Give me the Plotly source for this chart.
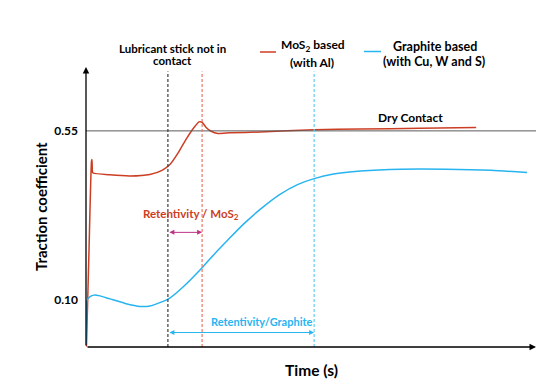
import plotly.graph_objects as go

# ---- data (time in arbitrary units, traction coefficient) ----
mos2_t = [0.1, 0.67, 1.22, 1.33, 1.42, 1.56, 5.3, 9.8, 14.2, 16.9, 18.7, 20.4, 22.2, 24.0, 25.1, 25.8,
          26.7, 27.8, 29.3, 32.0, 38.7, 50.7, 60.9, 74.2, 86.7]
mos2_y = [-0.024, 0.234, 0.469, 0.474, 0.442, 0.438, 0.433, 0.430, 0.434, 0.445, 0.461, 0.490, 0.527,
          0.559, 0.574, 0.573, 0.559, 0.549, 0.543, 0.545, 0.547, 0.553, 0.555, 0.557, 0.559]

graph_t = [0.0, 0.05, 0.1, 0.22, 0.9, 1.78, 3.1, 5.3, 8.7, 12.0, 14.2, 16.4, 18.7, 21.5, 25.8, 28.5,
           31.3, 35.0, 38.7, 43.1, 47.0, 50.7, 55.0, 61.0, 70.0, 80.0, 90.0, 98.0]
graph_y = [-0.018, 0.010, 0.060, 0.099, 0.109, 0.113, 0.111, 0.103, 0.091, 0.083, 0.084, 0.093, 0.106,
           0.134, 0.186, 0.222, 0.257, 0.302, 0.341, 0.381, 0.407, 0.423, 0.435, 0.443, 0.448, 0.448,
           0.445, 0.439]

dry_contact = 0.55
tick_vals = [0.10, 0.55]
tick_text = ["0.10", "0.55"]
t_not_in_contact = 18.2
t_mos2_ret = 25.8
t_graph_ret = 50.7

X_RANGE = [0, 100]
Y_RANGE = [-0.025, 0.72]

RED = "rgb(204,62,36)"
BLUE = "rgb(40,180,240)"
FONT = "Lato"

W, H = 553, 388
L, R, T, B = 86, 17, 67, 41


def px(x):
    return (x - L) / (W - L - R)


def py(y):
    return (H - B - y) / (H - T - B)


fig = go.Figure()
fig.add_trace(go.Scatter(x=mos2_t, y=mos2_y, mode="lines", line=dict(color=RED, width=1.5, shape="spline", smoothing=0.5),
                         showlegend=False, hoverinfo="skip", cliponaxis=False))
fig.add_trace(go.Scatter(x=graph_t, y=graph_y, mode="lines", line=dict(color=BLUE, width=1.5, shape="spline", smoothing=0.7),
                         showlegend=False, hoverinfo="skip", cliponaxis=False))

shapes = []
# dry contact line
shapes.append(dict(type="line", xref="x", yref="y", x0=0, x1=100.5, y0=dry_contact, y1=dry_contact,
                   line=dict(color="rgb(90,90,90)", width=1)))
# vertical dashed lines
top_v = 0.708
for t, c in [(t_not_in_contact, "rgb(60,60,60)"), (t_mos2_ret, "rgb(232,120,100)"), (t_graph_ret, "rgb(100,205,245)")]:
    shapes.append(dict(type="line", xref="x", yref="y", x0=t, x1=t, y0=Y_RANGE[0], y1=top_v,
                       line=dict(color=c, width=1.2, dash="3px,2px")))
# legend segments
shapes.append(dict(type="line", xref="paper", yref="paper", x0=px(260), x1=px(276), y0=py(52), y1=py(52),
                   line=dict(color=RED, width=1.5)))
shapes.append(dict(type="line", xref="paper", yref="paper", x0=px(364), x1=px(381), y0=py(51.5), y1=py(51.5),
                   line=dict(color=BLUE, width=1.5)))

ann = []
# axes with arrowheads
ann.append(dict(x=0, y=Y_RANGE[1], ax=0, ay=Y_RANGE[0], xref="x", yref="y", axref="x", ayref="y",
                showarrow=True, arrowhead=2, arrowsize=1, arrowwidth=1.3, arrowcolor="black", text=""))
ann.append(dict(x=100, y=Y_RANGE[0], ax=0, ay=Y_RANGE[0], xref="x", yref="y", axref="x", ayref="y",
                showarrow=True, arrowhead=2, arrowsize=1, arrowwidth=1.3, arrowcolor="black", text=""))
# retentivity arrows
mos_arrow_y = 0.280
ann.append(dict(x=t_mos2_ret, y=mos_arrow_y, ax=t_not_in_contact, ay=mos_arrow_y, xref="x", yref="y", axref="x", ayref="y",
                showarrow=True, arrowhead=2, startarrowhead=2, arrowside="end+start", arrowsize=1, arrowwidth=1,
                arrowcolor="rgb(190,50,130)", text=""))
gr_arrow_y = 0.0135
ann.append(dict(x=t_graph_ret, y=gr_arrow_y, ax=t_not_in_contact, ay=gr_arrow_y, xref="x", yref="y", axref="x", ayref="y",
                showarrow=True, arrowhead=2, startarrowhead=2, arrowside="end+start", arrowsize=1, arrowwidth=1,
                arrowcolor=BLUE, text=""))


def label(text, x, y, size=10, color="black", angle=0):
    ann.append(dict(text="<b>%s</b>" % text, x=px(x), y=py(y), xref="paper", yref="paper", showarrow=False,
                    font=dict(family=FONT, size=size, color=color), textangle=angle,
                    xanchor="center", yanchor="middle", align="center"))


label("Lubricant stick not in", 172, 48, size=11.5)
label("contact", 172, 60, size=11.5)
label("MoS<sub>2</sub> based", 313, 45.5, size=12)
label("(with Al)", 312, 62, size=12)
label("Graphite based", 434.5, 46, size=12.5)
label("(with Cu, W and S)", 434, 61, size=12.5)
label("Dry Contact", 410, 117.5, size=12)
label("Retentivity / MoS<sub>2</sub>", 191, 214, size=11.5, color=RED)
label("Retentivity/Graphite", 261, 321, size=11, color=BLUE)
label("Traction coefficient", 41, 207, size=15, angle=-90)
label("Time (s)", 311, 370, size=15.5)

fig.update_layout(
    width=W, height=H, margin=dict(l=L, r=R, t=T, b=B),
    paper_bgcolor="white", plot_bgcolor="white",
    shapes=shapes, annotations=ann, showlegend=False,
    xaxis=dict(range=X_RANGE, showgrid=False, zeroline=False, showline=False, showticklabels=False, ticks=""),
    yaxis=dict(range=Y_RANGE, showgrid=False, zeroline=False, showline=False, ticks="",
               tickvals=tick_vals, ticktext=["<b>%s</b>" % s for s in tick_text], ticklabelstandoff=7,
               tickfont=dict(family=FONT, size=12, color="black")),
)

fig.write_html("out.html", config={"displayModeBar": False},
               post_script="document.body.style.margin='0';")
